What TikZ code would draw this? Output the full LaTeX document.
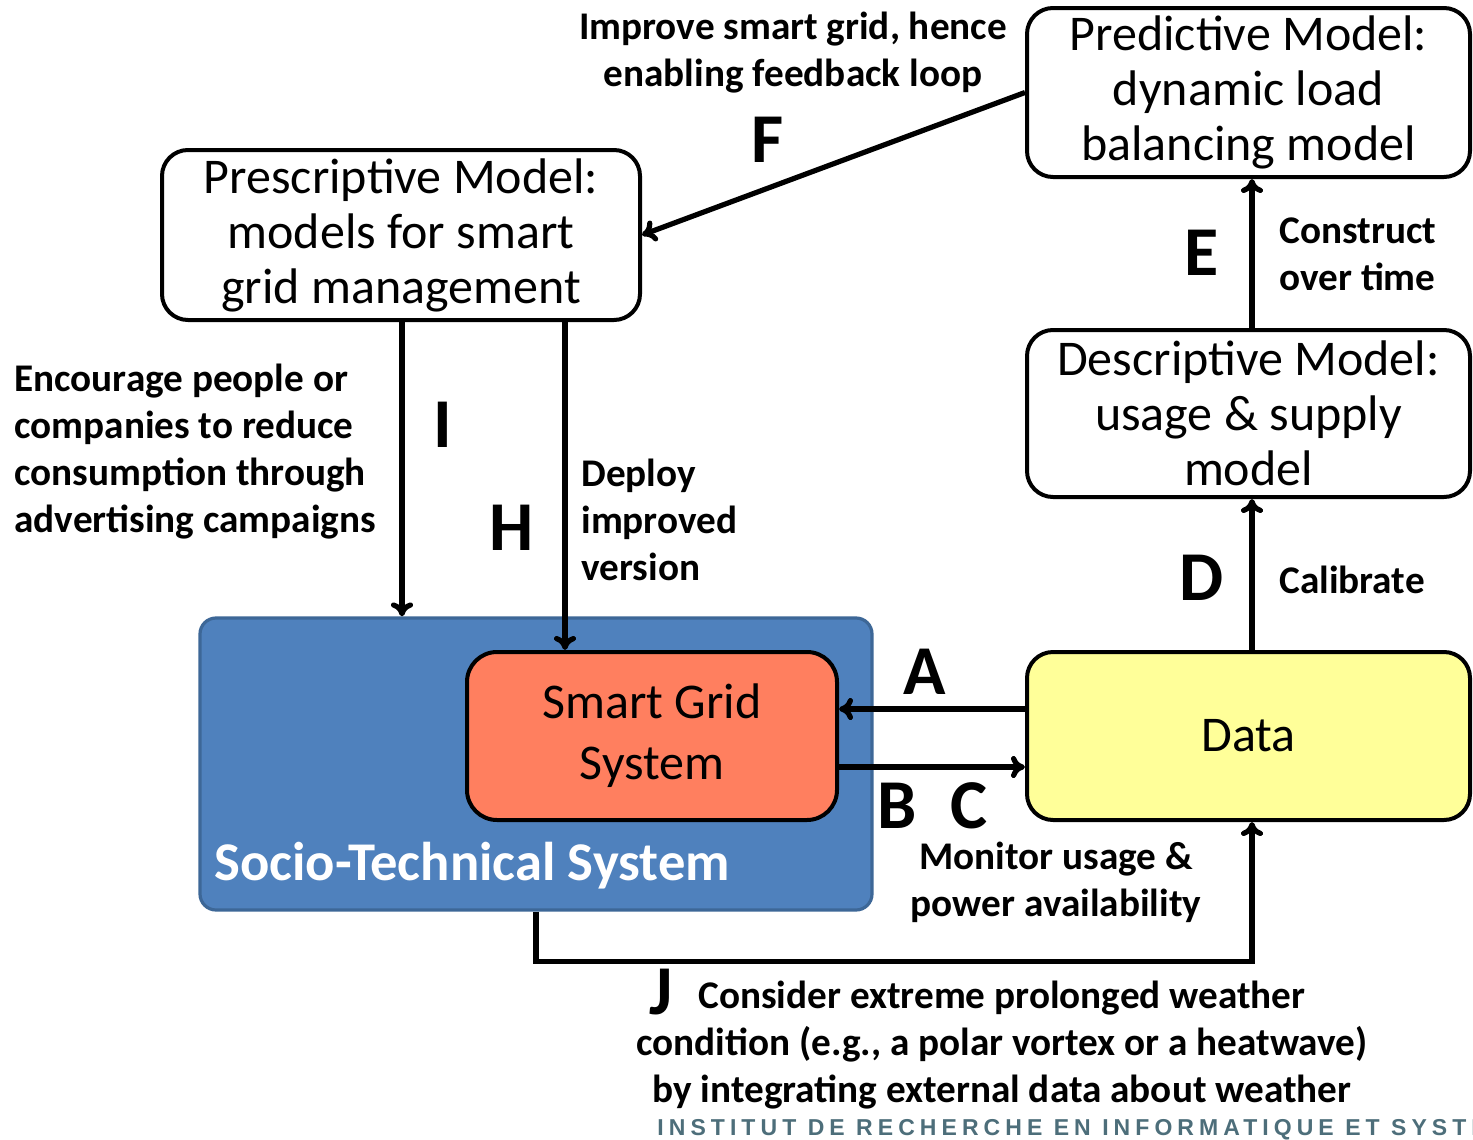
\documentclass[tikz,border=0pt]{standalone}
\usepackage{fontspec}
\setmainfont{Carlito}
\newfontfamily\instfont[LetterSpace=22]{Liberation Sans}
\usetikzlibrary{arrows.meta,calc}
\definecolor{socioblue}{HTML}{4F81BD}
\definecolor{socioedge}{HTML}{3D6797}
\definecolor{gridred}{HTML}{FF7F5F}
\definecolor{datayellow}{HTML}{FFFF99}
\definecolor{instcol}{HTML}{4D6E7A}
\tikzset{
  mbox/.style={draw=black, line width=2pt, rounded corners=13pt, fill=white, align=center,
    font=\fontsize{25}{27.5}\selectfont, inner sep=0pt},
  arr/.style={draw=black, line width=2.6pt, -{To[length=7pt,width=11pt]}},
  lbl/.style={font=\fontsize{19.6}{23.5}\selectfont\bfseries, inner sep=0pt},
  letter/.style={font=\fontsize{35}{40}\selectfont\bfseries, inner sep=0pt},
}
\begin{document}
\begin{tikzpicture}[x=0.5pt,y=-0.5pt]
\clip (0,0) rectangle (1473,1140);
\fill[white] (0,0) rectangle (1473,1140);

% boxes
\node[draw=socioedge, line width=1.6pt, fill=socioblue, rounded corners=8pt,
  minimum width=336pt, minimum height=146pt, inner sep=0pt] (socio) at (536,764) {};
\node[anchor=base west, inner sep=0pt, text=white, font=\fontsize{27.3}{32}\selectfont\bfseries]
  (sociolbl) at (214,880) {Socio-Technical System};
\node[mbox, fill=gridred, rounded corners=15pt, minimum width=185pt, minimum height=84pt,
  font=\fontsize{25}{30.5}\selectfont] (smart) at (652,736) {Smart Grid\\System};
\node[mbox, minimum width=221.5pt, minimum height=84.5pt] (pred) at (1248.5,92.5)
  {Predictive Model:\\dynamic load\\balancing model};
\node[mbox, minimum width=239pt, minimum height=85pt] (presc) at (401,235)
  {Prescriptive Model:\\models for smart\\grid management};
\node[mbox, minimum width=221.5pt, minimum height=83.5pt] (desc) at (1248.5,413.5)
  {Descriptive Model:\\usage \& supply\\model};
\node[mbox, fill=datayellow, minimum width=221.5pt, minimum height=84pt,
  font=\fontsize{25}{30.5}\selectfont] (data) at (1248.5,736) {Data};

% connectors
\draw[arr] (pred.west) -- (presc.east);
\coordinate (eBot) at ($(desc.north)+(3.5,0)$);
\draw[arr] (eBot) -- (eBot |- pred.south);
\coordinate (dBot) at ($(data.north)+(3.5,0)$);
\draw[arr] (dBot) -- (dBot |- desc.south);
\coordinate (aStart) at ([yshift=13.5pt]data.west);
\draw[arr] (aStart) -- (aStart -| smart.east);
\coordinate (bStart) at ([yshift=-15.5pt]smart.east);
\draw[arr] (bStart) -- (bStart -| data.west);
\coordinate (iTop) at ($(presc.south)+(1,0)$);
\draw[arr] (iTop) -- (iTop |- socio.north);
\coordinate (hTop) at ($(presc.south)+(164,0)$);
\draw[arr] (hTop) -- (hTop |- smart.north);
\coordinate (jTop) at ($(data.south)+(3.5,0)$);
\draw[arr] (socio.south) -- ++(0,50) -| (jTop);

% labels
\node[lbl, align=center] (fTxt) at (793,53) {Improve smart grid, hence\\enabling feedback loop};
\node[letter] (fL) at (768,140) {F};
\node[lbl, align=left, anchor=west] (eTxt) at (1279,254) {Construct\\over time};
\node[letter] (eL) at (1202,253) {E};
\node[lbl, anchor=west] (dTxt) at (1279,580) {Calibrate};
\node[letter] (dL) at (1202,578) {D};
\node[lbl, align=left, anchor=west] (iTxt) at (14,452)
  {Encourage people or\\companies to reduce\\consumption through\\advertising campaigns};
\node[letter] (iL) at (443,425) {I};
\node[letter] (hL) at (512,528) {H};
\node[lbl, align=left, anchor=west] (hTxt) at (581,520) {Deploy\\improved\\version};
\node[letter] (aL) at (925,672) {A};
\node[letter] (bL) at (897,806) {B};
\node[letter] (cL) at (969,806) {C};
\node[lbl, align=center] (mTxt) at (1056,882) {Monitor usage \&\\power availability};
\node[letter] (jL) at (661,992) {J};
\node[lbl, align=center] (jTxt) at (1002,1045)
  {Consider extreme prolonged weather\\condition (e.g., a polar vortex or a heatwave)\\by integrating external data about weather};
\node[anchor=base west, inner sep=0pt, text=instcol, font=\fontsize{11.5}{13}\instfont\bfseries]
  (inst) at (657,1135) {INSTITUT DE RECHERCHE EN INFORMATIQUE ET SYSTÈMES};
\end{tikzpicture}
\end{document}
